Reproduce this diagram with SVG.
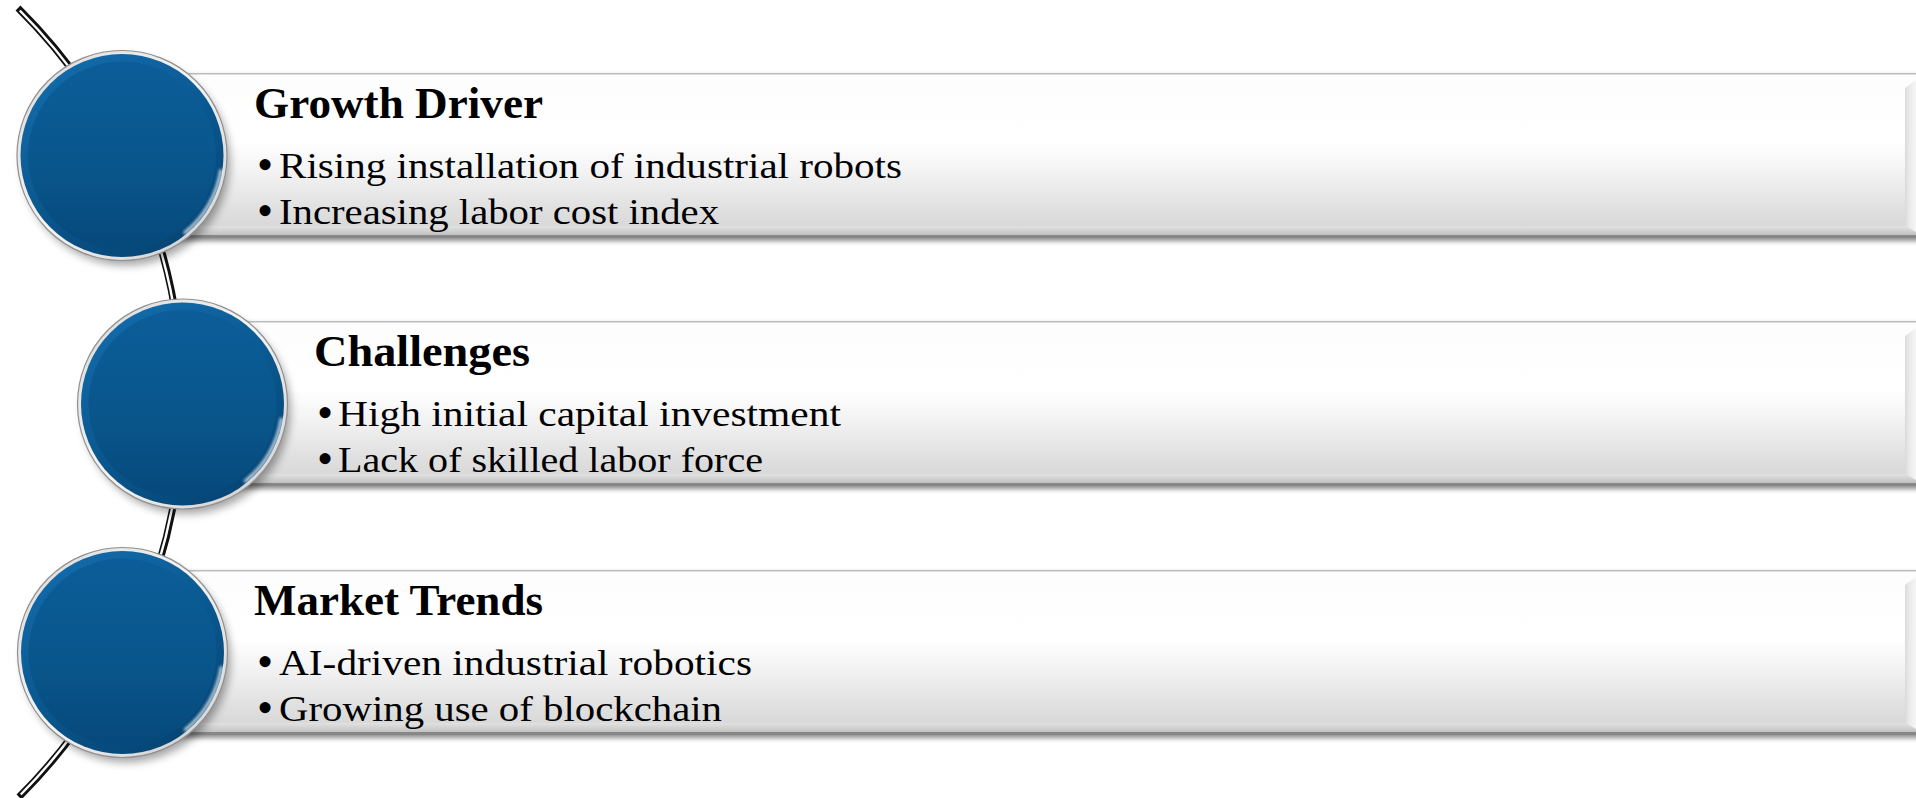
<svg xmlns="http://www.w3.org/2000/svg" xmlns:xlink="http://www.w3.org/1999/xlink" width="1916" height="798" viewBox="0 0 1916 798">
<style>
.title{font-family:"Liberation Serif","Times New Roman",serif;font-weight:bold;font-size:44px;fill:#000}
.item{font-family:"Liberation Serif","Times New Roman",serif;font-size:35px;fill:#000}
.bul{font-family:"Liberation Serif","Times New Roman",serif;font-size:46px;fill:#000}
.arc-out{fill:none;stroke:#111;stroke-width:7}
.arc-in{fill:none;stroke:#fff;stroke-width:2.4}
</style>
<defs>
<linearGradient id="barFill" x1="0" y1="0" x2="0" y2="1">
<stop offset="0" stop-color="#fdfdfd"/>
<stop offset="0.42" stop-color="#ffffff"/>
<stop offset="0.62" stop-color="#f1f1f1"/>
<stop offset="0.85" stop-color="#dedede"/>
<stop offset="1" stop-color="#d4d4d4"/>
</linearGradient>
<linearGradient id="barBottom" x1="0" y1="0" x2="0" y2="1">
<stop offset="0" stop-color="#e2e2e2"/>
<stop offset="1" stop-color="#c2c2c2"/>
</linearGradient>
<linearGradient id="bevelRight" x1="0" y1="0" x2="1" y2="0">
<stop offset="0" stop-color="#dadada"/>
<stop offset="0.35" stop-color="#e9e9e9"/>
<stop offset="1" stop-color="#f6f6f6"/>
</linearGradient>
<linearGradient id="rim" x1="0" y1="0" x2="1" y2="1">
<stop offset="0" stop-color="#d9d9d9"/>
<stop offset="0.5" stop-color="#f5f5f5"/>
<stop offset="1" stop-color="#c8c8c8"/>
</linearGradient>
<linearGradient id="blueOuter" x1="0.2" y1="0" x2="0.8" y2="1">
<stop offset="0" stop-color="#136cab"/>
<stop offset="0.5" stop-color="#0a5890"/>
<stop offset="1" stop-color="#054372"/>
</linearGradient>
<linearGradient id="blueInner" x1="0" y1="0" x2="0" y2="1">
<stop offset="0" stop-color="#0b5d99"/>
<stop offset="0.55" stop-color="#09568c"/>
<stop offset="1" stop-color="#06497b"/>
</linearGradient>
<filter id="barShadow" x="-5%" y="-20%" width="110%" height="140%">
<feDropShadow dx="0" dy="3" stdDeviation="2.5" flood-color="#000" flood-opacity="0.45"/>
</filter>
<filter id="soft" x="-30%" y="-30%" width="160%" height="160%">
<feGaussianBlur stdDeviation="4"/>
</filter>
<filter id="glow" x="-30%" y="-30%" width="160%" height="160%">
<feGaussianBlur stdDeviation="1.5"/>
</filter>
<g id="bubble">
<circle cx="4" cy="6" r="104" fill="#000" opacity="0.35" filter="url(#soft)"/>
<circle cx="0" cy="0" r="105" fill="url(#rim)" stroke="#8f8f8f" stroke-width="1.2"/>
<circle cx="0" cy="0" r="101.5" fill="url(#blueOuter)"/>
<circle cx="0" cy="0" r="94" fill="url(#blueInner)"/>
<path d="M 99 14 A 100 100 0 0 1 62 78" fill="none" stroke="#ffffff" stroke-width="3" opacity="0.8" filter="url(#glow)"/>
</g>
</defs>
<rect x="0" y="0" width="1916" height="798" fill="#ffffff"/>

<g id="connectors">
<path class="arc-out" d="M 18 8 A 556 556 0 0 1 19 797"/>
<path class="arc-in" d="M 19.8 10.5 A 556 556 0 0 1 20.8 794.5"/>
</g>

<g id="node-growth">
<g filter="url(#barShadow)">
<rect x="122" y="73" width="1830" height="165" fill="url(#barFill)"/>
</g>
<rect x="122" y="73" width="1830" height="1.5" fill="#bdbdbd"/>
<rect x="122" y="226" width="1830" height="9" fill="url(#barBottom)"/>
<rect x="122" y="235" width="1830" height="3" fill="#878787"/>
<polygon points="1905,88 1916,80 1916,232 1905,226" fill="url(#bevelRight)"/>
<use xlink:href="#bubble" x="122" y="155.5"/>
<text class="title" x="254" y="117.5" textLength="289" lengthAdjust="spacingAndGlyphs">Growth Driver</text>
<text class="bul" x="257" y="180">•</text>
<text class="item" x="279" y="177.5" textLength="623" lengthAdjust="spacingAndGlyphs">Rising installation of industrial robots</text>
<text class="bul" x="257" y="226">•</text>
<text class="item" x="279" y="223.5" textLength="440" lengthAdjust="spacingAndGlyphs">Increasing labor cost index</text>
</g>

<g id="node-challenges">
<g filter="url(#barShadow)">
<rect x="182" y="321" width="1770" height="165" fill="url(#barFill)"/>
</g>
<rect x="182" y="321" width="1770" height="1.5" fill="#bdbdbd"/>
<rect x="182" y="474" width="1770" height="9" fill="url(#barBottom)"/>
<rect x="182" y="483" width="1770" height="3" fill="#878787"/>
<polygon points="1905,336 1916,328 1916,480 1905,474" fill="url(#bevelRight)"/>
<use xlink:href="#bubble" x="182.5" y="404"/>
<text class="title" x="314" y="365.5" textLength="216" lengthAdjust="spacingAndGlyphs">Challenges</text>
<text class="bul" x="317" y="428">•</text>
<text class="item" x="338" y="425.5" textLength="503" lengthAdjust="spacingAndGlyphs">High initial capital investment</text>
<text class="bul" x="317" y="474">•</text>
<text class="item" x="338" y="471.5" textLength="425" lengthAdjust="spacingAndGlyphs">Lack of skilled labor force</text>
</g>

<g id="node-trends">
<g filter="url(#barShadow)">
<rect x="122" y="570" width="1830" height="165" fill="url(#barFill)"/>
</g>
<rect x="122" y="570" width="1830" height="1.5" fill="#bdbdbd"/>
<rect x="122" y="723" width="1830" height="9" fill="url(#barBottom)"/>
<rect x="122" y="732" width="1830" height="3" fill="#878787"/>
<polygon points="1905,585 1916,577 1916,729 1905,723" fill="url(#bevelRight)"/>
<use xlink:href="#bubble" x="122.5" y="652.5"/>
<text class="title" x="254" y="614.5" textLength="289" lengthAdjust="spacingAndGlyphs">Market Trends</text>
<text class="bul" x="257" y="677">•</text>
<text class="item" x="279" y="674.5" textLength="473" lengthAdjust="spacingAndGlyphs">AI-driven industrial robotics</text>
<text class="bul" x="257" y="723">•</text>
<text class="item" x="279" y="720.5" textLength="443" lengthAdjust="spacingAndGlyphs">Growing use of blockchain</text>
</g>
</svg>
